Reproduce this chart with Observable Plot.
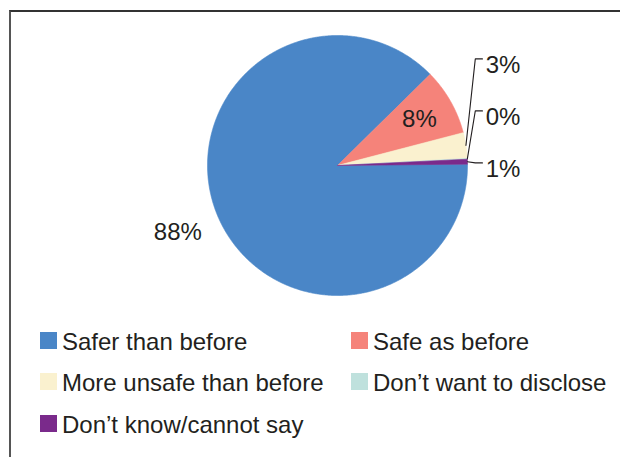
<!DOCTYPE html>
<html>
<head>
<meta charset="utf-8">
<script src="https://cdn.jsdelivr.net/npm/d3@7"></script>
<script src="https://cdn.jsdelivr.net/npm/@observablehq/plot@0.6"></script>
<style>
  html, body { margin: 0; padding: 0; background: #fff; }
  #wrap { position: relative; width: 620px; height: 457px; overflow: hidden; background: #fff;
          font-family: "Liberation Sans", Arial, Helvetica, sans-serif; color: #231f20; }
  #frame { position: absolute; left: 9px; top: 10px; width: 640px; height: 480px;
           border-top: 2px solid #333; border-left: 2px solid #555; box-sizing: border-box; }
  #chart { position: absolute; left: 0; top: 0; }
  .sw { position: absolute; width: 17px; height: 17px; }
  .lt { position: absolute; font-size: 24px; line-height: 24px; white-space: nowrap; color: #231f20; }
</style>
</head>
<body>
<div id="wrap">
  <div id="frame"></div>
  <div id="chart"></div>
  <div id="legend"></div>
</div>
<script>
// ---- data ----
const categories = ["Safer than before", "Safe as before", "More unsafe than before", "Don’t want to disclose", "Don’t know/cannot say"];
const shares = [87.8, 8.3, 3.2, 0.1, 0.6];
const shareLabels = ["88%", "8%", "3%", "0%", "1%"];
const colors = ["#4a86c7", "#f5837a", "#faf1cf", "#bfe1dd", "#7a2a8b"];

// ---- layout ----
const startDeg = 89.4;          // first slice starts near 3 o'clock, clockwise
const total = d3.sum(shares);
let acc = startDeg;
const slices = shares.map((v, i) => {
  const a0 = acc, a1 = acc + v / total * 360;
  acc = a1;
  return {i, cat: categories[i], a0, a1, mid: (a0 + a1) / 2, share: v};
});
const rad = d => d * Math.PI / 180;
const pt = (deg, r) => ({x: r * Math.sin(rad(deg)), y: r * Math.cos(rad(deg))});

// slice outlines
const slicePts = [];
for (const s of slices) {
  const n = Math.max(2, Math.ceil((s.a1 - s.a0) / 0.4));
  slicePts.push({cat: s.cat, x: 0, y: 0});
  for (let k = 0; k <= n; k++) {
    const p = pt(s.a0 + (s.a1 - s.a0) * k / n, 1);
    slicePts.push({cat: s.cat, x: p.x, y: p.y});
  }
  slicePts.push({cat: s.cat, x: 0, y: 0});
}

// labels
const labelPts = [];
const leaderPts = [];
const calloutPts = [];
let k = 0;
for (const s of slices) {
  if (s.share >= 50) {
    const p = pt(s.mid, 1.33);
    labelPts.push({x: p.x, y: p.y, text: shareLabels[s.i]});
  } else if (s.share >= 5) {
    const p = pt(s.mid, 0.725);
    labelPts.push({x: p.x, y: p.y, text: shareLabels[s.i]});
  } else {
    const p = pt(s.mid, 1);
    const level = 0.82 - 0.4 * k;
    leaderPts.push({id: s.i, x: p.x, y: p.y});
    leaderPts.push({id: s.i, x: 1.06, y: level});
    leaderPts.push({id: s.i, x: 1.115, y: level});
    calloutPts.push({x: 1.14, y: level, text: shareLabels[s.i]});
    k++;
  }
}

const font = "Liberation Sans, Arial, Helvetica, sans-serif";
const plot = Plot.plot({
  width: 620,
  height: 310,
  marginLeft: 207,
  marginRight: 153,
  marginTop: 35,
  marginBottom: 15,
  x: {domain: [-1, 1], axis: null},
  y: {domain: [-1, 1], axis: null},
  color: {domain: categories, range: colors},
  style: {background: "transparent", overflow: "visible", fontFamily: font},
  marks: [
    Plot.line(slicePts, {x: "x", y: "y", z: "cat", fill: "cat", stroke: "cat", strokeWidth: 0.6, curve: "linear"}),
    Plot.line(leaderPts, {x: "x", y: "y", z: "id", stroke: "#231f20", strokeWidth: 1.1, curve: "linear"}),
    Plot.text(labelPts, {x: "x", y: "y", text: "text", fontSize: 24, fill: "#231f20", fontFamily: font, textAnchor: "middle"}),
    Plot.text(calloutPts, {x: "x", y: "y", text: "text", fontSize: 24, fill: "#231f20", fontFamily: font, textAnchor: "start", dy: 6})
  ]
});
document.getElementById("chart").appendChild(plot);

// legend (HTML, below the pie)
const legend = document.getElementById("legend");
const colSquareX = [40, 351];
const colTextX = [62, 373];
const rowTop = [331.7, 373.4, 415.1];
categories.forEach((c, i) => {
  const col = i % 2, row = Math.floor(i / 2);
  const sw = document.createElement("div");
  sw.className = "sw";
  sw.style.left = colSquareX[col] + "px";
  sw.style.top = rowTop[row] + "px";
  sw.style.background = colors[i];
  legend.appendChild(sw);
  const t = document.createElement("div");
  t.className = "lt";
  t.style.left = colTextX[col] + "px";
  t.style.top = (rowTop[row] - 2) + "px";
  t.textContent = c;
  legend.appendChild(t);
});
</script>
</body>
</html>
